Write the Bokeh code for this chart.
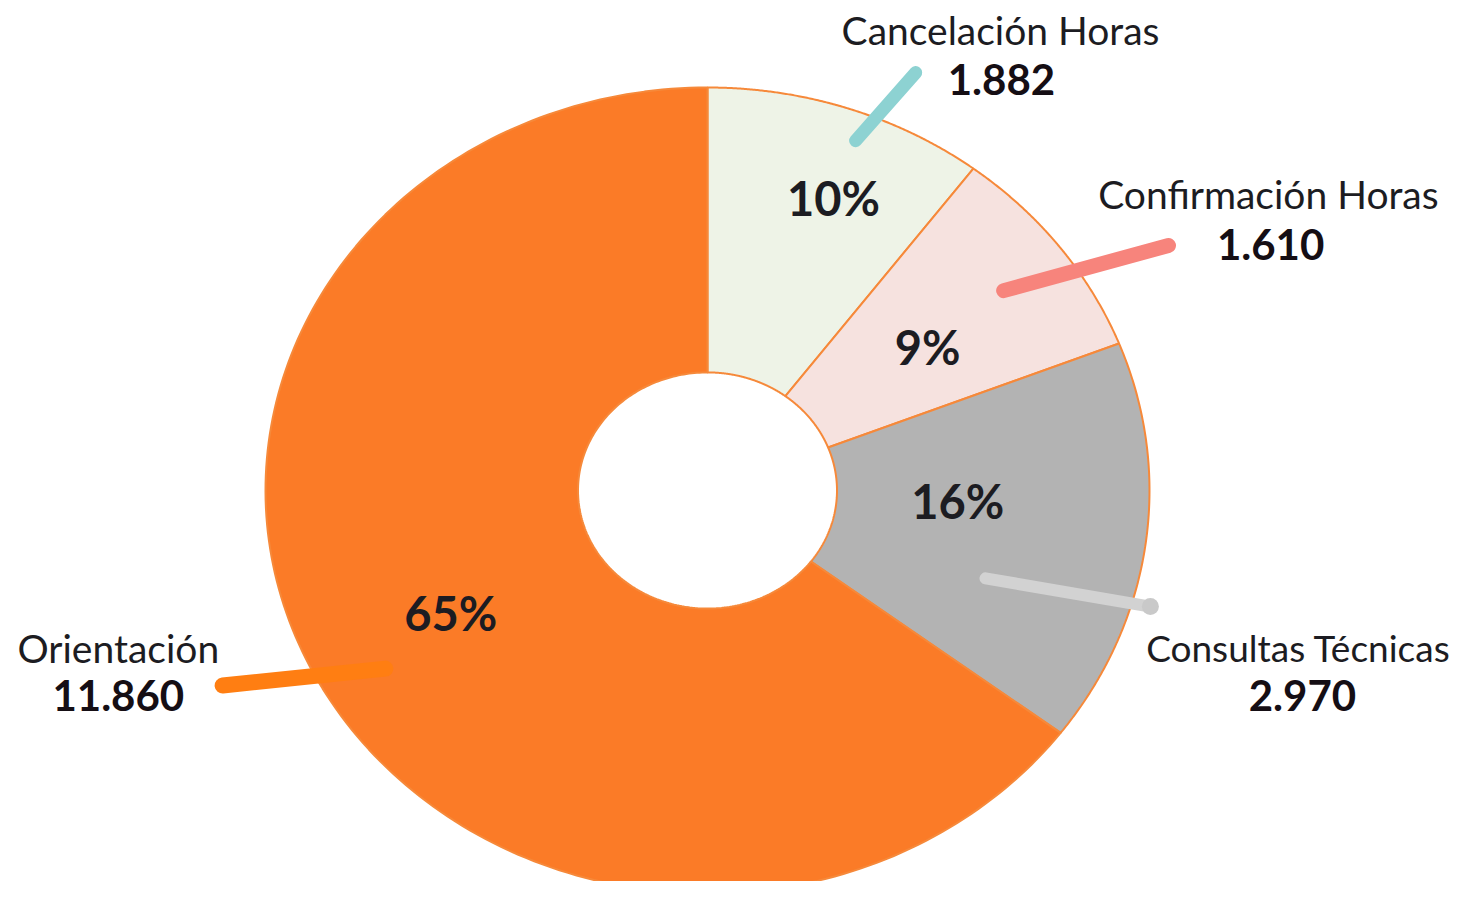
import numpy as np
from bokeh.plotting import figure
from bokeh.models import Range1d, ColumnDataSource
from bokeh.core.properties import value
from bokeh.embed import file_html
from bokeh.resources import INLINE

# ---- data ----
categories = ["Cancelación Horas", "Confirmación Horas", "Consultas Técnicas", "Orientación"]
values = [1882, 1610, 2970, 11860]
value_labels = ["1.882", "1.610", "2.970", "11.860"]
pct_labels = ["10%", "9%", "16%", "65%"]

# ---- styles ----
fill_colors = ["#EEF3E7", "#F6E2DF", "#B3B3B3", "#FB7B27"]
leader_colors = ["#8DD2D2", "#F7847C", "#D2D2D2", "#FF7E12"]
leader_widths = [13, 15, 12, 16]
name_sizes = ["39px", "39px", "37px", "39px"]
border_color = "#F6893A"
text_color = "#1C1C22"
FONT = "Lato"

# ---- layout (unit-ellipse coordinates; donut outer radius = 1) ----
inner_r = 0.293
pct_pos = [(0.285, 0.727), (0.498, 0.355), (0.566, -0.025), (-0.581, -0.303)]
name_pos = [(0.663, 1.143), (1.269, 0.736), (1.337, -0.390), (-1.333, -0.390)]
num_pos = [(0.665, 1.020), (1.274, 0.610), (1.346, -0.509), (-1.333, -0.509)]
leader_start = [(0.335, 0.868), (0.670, 0.496), (0.629, -0.218), (-0.729, -0.442)]
leader_end = [(0.471, 1.037), (1.043, 0.608), (1.002, -0.288), (-1.097, -0.484)]

cx, cy, rx, ry = 707.0, 490.0, 442.0, 403.0
W, H = 1453, 881
p = figure(width=W, height=H, output_backend="svg", toolbar_location=None,
           x_range=Range1d((0 - cx) / rx, (W - cx) / rx),
           y_range=Range1d((cy - H) / ry, (cy - 0) / ry),
           min_border=0, outline_line_color=None)
p.axis.visible = False
p.grid.visible = False
p.background_fill_color = "white"

# wedges as patches (the reference donut is an ellipse)
total = float(sum(values))
fr = np.array(values) / total
ends = np.pi / 2 - 2 * np.pi * np.cumsum(fr)
starts = np.concatenate([[np.pi / 2], ends[:-1]])
xs, ys = [], []
for a0, a1 in zip(starts, ends):
    t = np.linspace(a0, a1, 200)
    xo, yo = np.cos(t), np.sin(t)
    xi, yi = inner_r * np.cos(t[::-1]), inner_r * np.sin(t[::-1])
    xs.append(np.concatenate([xo, xi]).tolist())
    ys.append(np.concatenate([yo, yi]).tolist())
p.patches(xs, ys, fill_color=fill_colors, line_color=border_color, line_width=2)

# leader lines
for (x0, y0), (x1, y1), c, w in zip(leader_start, leader_end, leader_colors, leader_widths):
    p.line([x0, x1], [y0, y1], line_color=c, line_width=w, line_cap="round")
# end blob on grey leader
p.scatter([leader_end[2][0]], [leader_end[2][1]], size=17, fill_color="#C9C9C9", line_color=None)

# percent labels
src_p = ColumnDataSource(dict(x=[q[0] for q in pct_pos], y=[q[1] for q in pct_pos], t=pct_labels))
p.text("x", "y", text="t", source=src_p, text_align="center", text_baseline="middle",
       text_font=value(FONT), text_font_style="bold", text_font_size=value("47px"),
       text_color=text_color)

# category names
src_n = ColumnDataSource(dict(x=[q[0] for q in name_pos], y=[q[1] for q in name_pos],
                              t=categories, s=name_sizes))
p.text("x", "y", text="t", source=src_n, text_align="center", text_baseline="middle",
       text_font=value(FONT), text_font_size="s", text_color=text_color)

# values
src_v = ColumnDataSource(dict(x=[q[0] for q in num_pos], y=[q[1] for q in num_pos], t=value_labels))
p.text("x", "y", text="t", source=src_v, text_align="center", text_baseline="middle",
       text_font=value(FONT), text_font_style="bold", text_font_size=value("42px"),
       text_color="#150E14")

open("out.html", "w").write(file_html(p, INLINE))
